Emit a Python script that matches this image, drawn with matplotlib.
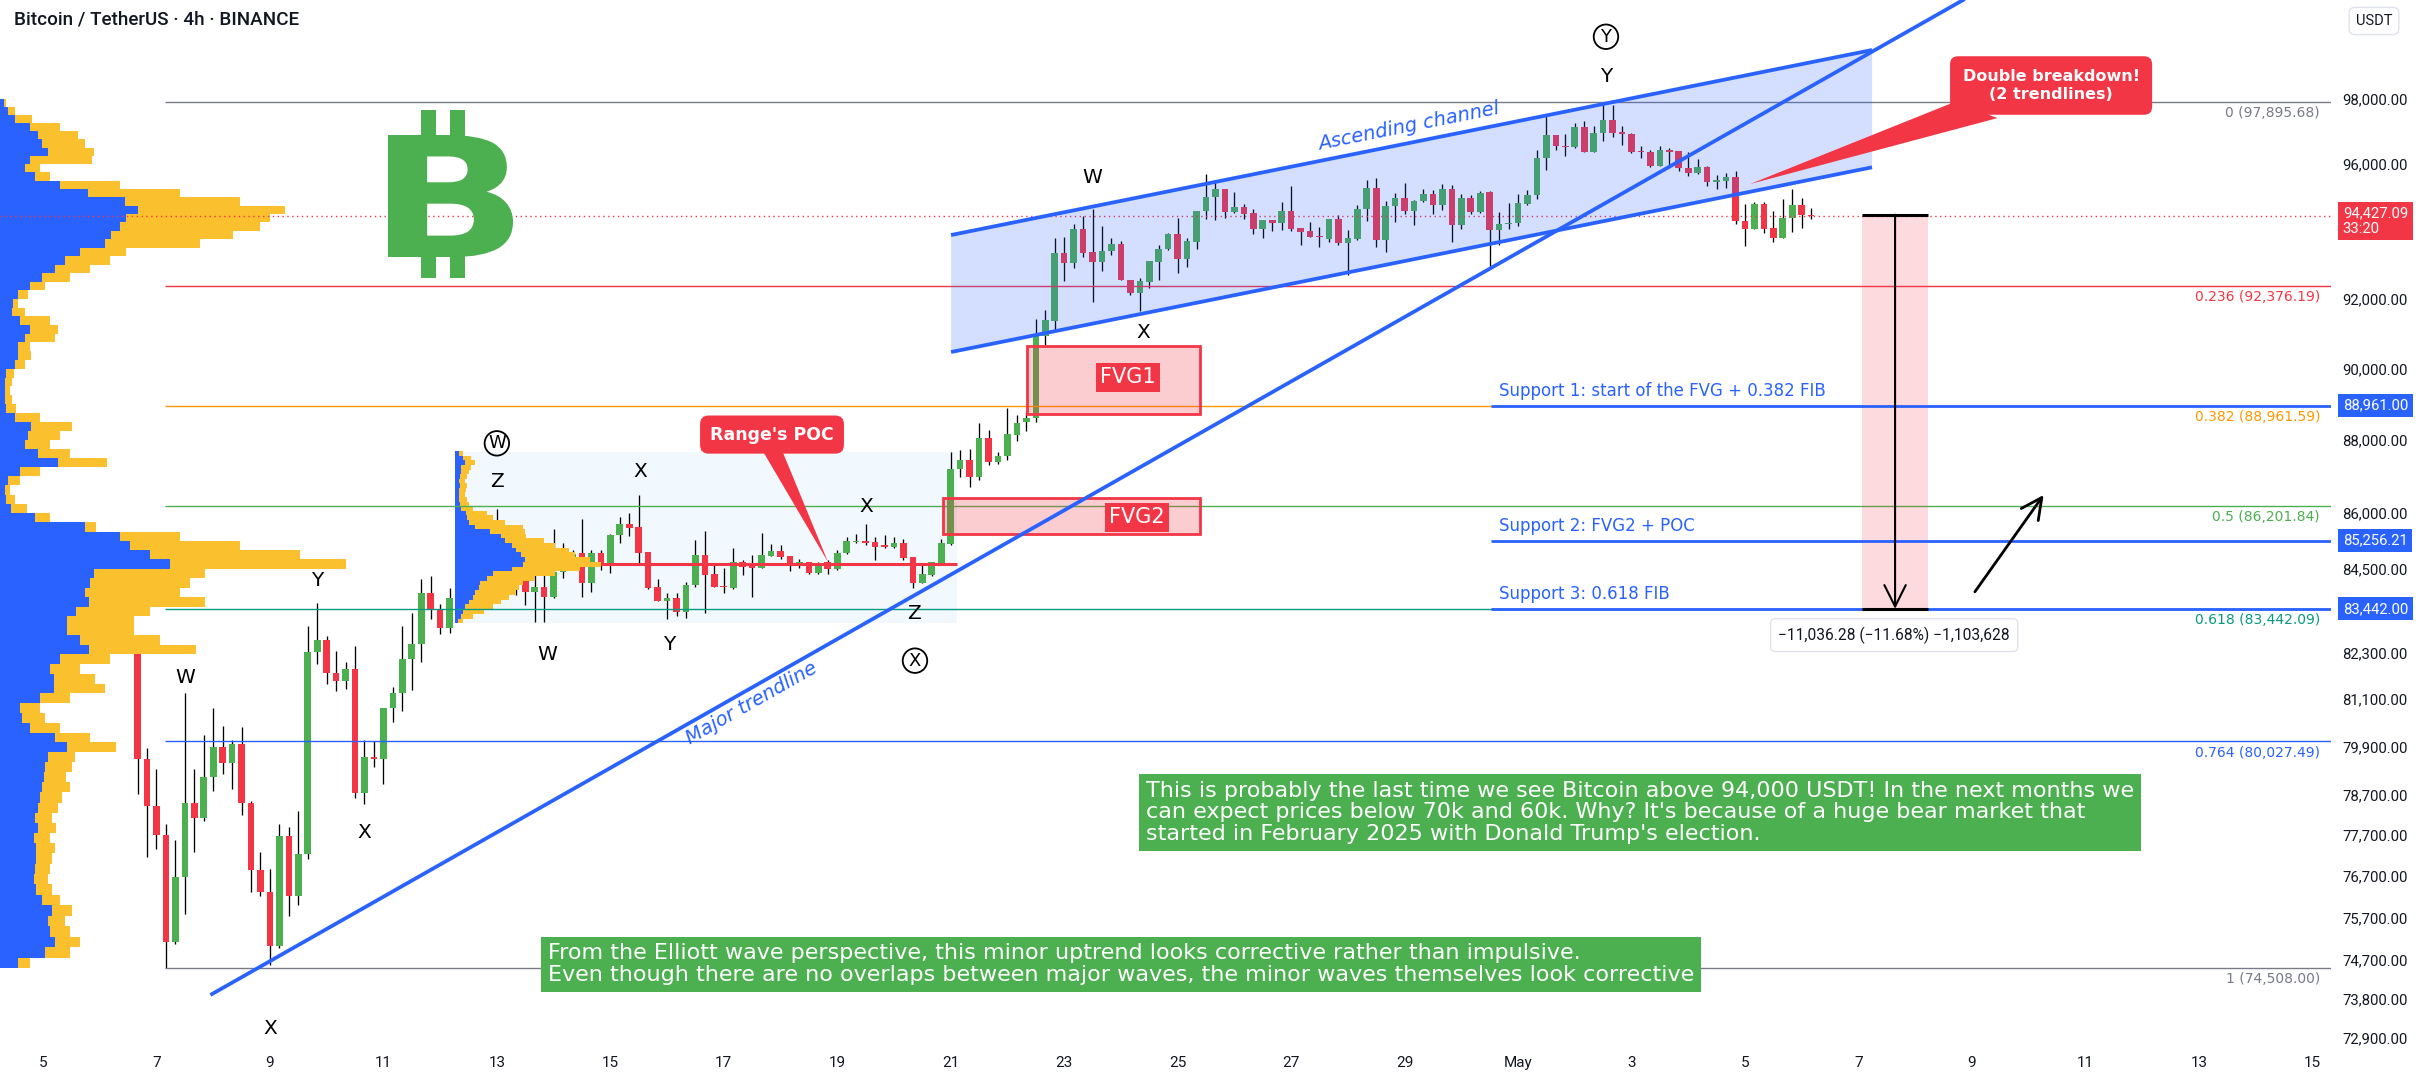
import numpy as np
import pandas as pd
import matplotlib
matplotlib.use('Agg')
import matplotlib.pyplot as plt
import matplotlib.dates as mdates
from matplotlib.patches import Rectangle, Polygon, PathPatch
from matplotlib.ticker import NullLocator, NullFormatter
from matplotlib.textpath import TextPath
from matplotlib.font_manager import FontProperties
from matplotlib.transforms import Affine2D, IdentityTransform

plt.rcParams['font.family'] = ['DejaVu Sans']
UI = ['Roboto', 'DejaVu Sans']

GREEN = '#4caf50'
RED = '#f23645'
BLUE = '#2962ff'
YELLOW = '#fbc02d'
ORANGE = '#ff9800'
TEAL = '#089981'
GRAY = '#787b86'
INK = '#131722'

# BTC/USDT 4h candles, first bar 6 Apr 2025 12:00
opens = [83100, 82300, 79590, 78420, 77704, 75113, 76685, 78484, 78115, 79144,
         79897, 79479, 79962, 78484, 76845, 76310, 75026, 77686, 76221, 77243,
         82316, 82624, 81759, 81568, 81864, 78730, 79646, 79581, 80874, 81268,
         82123, 82518, 83861, 83440, 82935, 83740, 84500, 85300, 84900, 85500,
         85100, 84000, 84351, 83875, 84016, 83761, 84422, 84700, 84936, 84113,
         84936, 84643, 85401, 85715, 85616, 84945, 84016, 83655, 83717, 83366,
         84069, 84865, 84360, 84025, 83981, 84688, 84573, 84528, 84847, 84972,
         84838, 84652, 84679, 84378, 84688, 84484, 84910, 85213, 85231, 85213,
         85115, 85088, 85186, 84812, 84131, 84334, 84643, 85177, 87212, 87442,
         86984, 88048, 87400, 87564, 88148, 88507, 88621, 90922, 91373, 93354,
         93053, 94057, 93375, 93093, 93405, 93598, 92551, 92184, 92491, 93093,
         93477, 93914, 93174, 93680, 94580, 95014, 95240, 94570, 94704, 94529,
         94067, 94313, 94221, 94580, 94087, 94007, 93843, 93761, 94365, 93649,
         93761, 94642, 95282, 93731, 94724, 94982, 94591, 94879, 95095, 94776,
         95240, 94159, 94982, 94570, 95150, 94036, 94204, 94234, 94797, 95074,
         96185, 96893, 96539, 96508, 97127, 96357, 96944, 97351, 96944, 96924,
         96387, 96357, 95954, 96437, 96387, 95884, 95733, 95914, 95443, 95493,
         95613, 94303, 94056, 94797, 94076, 93790, 94372, 94768, 94481]
highs = [83400, 82720, 79869, 79340, 77979, 77568, 81249, 79340, 80197, 80874,
         80404, 80075, 80386, 78529, 77279, 76863, 77979, 77888, 78297, 82993,
         83596, 82740, 82335, 82047, 82470, 80056, 80027, 80884, 81420, 82993,
         83333, 84234, 84313, 83567, 84000, 84700, 85500, 85600, 85700, 86121,
         85300, 84600, 84500, 84334, 84422, 85562, 85200, 85000, 85832, 85000,
         84999, 85446, 85895, 86003, 86501, 84945, 84228, 83849, 83849, 84157,
         85284, 85508, 84661, 84511, 85061, 84732, 84865, 85473, 85177, 85150,
         84838, 84776, 84679, 84670, 84732, 84999, 85356, 85446, 85697, 85356,
         85410, 85356, 85311, 84812, 84626, 84688, 85293, 87672, 87736, 87764,
         88463, 88278, 87673, 88898, 88686, 88774, 91421, 91689, 93802, 93822,
         94211, 94447, 94652, 94139, 93781, 93700, 92551, 92600, 93124, 93578,
         93934, 94395, 93781, 94601, 95711, 95511, 95240, 95157, 94786, 94652,
         94324, 94324, 94858, 95338, 94087, 94272, 94108, 94365, 94478, 94036,
         94755, 95511, 95581, 94889, 95126, 95432, 94910, 95240, 95230, 95411,
         95380, 95085, 95074, 95178, 95197, 94550, 94827, 95094, 95214, 96437,
         97454, 96893, 96924, 97249, 97300, 97147, 97895.68, 97814, 97147, 96944,
         96539, 96437, 96539, 96488, 96387, 96357, 96155, 95954, 95683, 95733,
         95783, 94797, 94846, 94846, 94600, 94946, 95244, 94975, 94669]
lows = [82500, 78712, 77162, 77360, 74508, 75087, 75778, 77297, 78050, 78785,
        79220, 78831, 78188, 76328, 76221, 74589, 74982, 75751, 76017, 77117,
        81999, 81492, 81296, 81353, 78602, 78456, 79377, 78969, 80517, 80799,
        81334, 82047, 83187, 82779, 82800, 83600, 84300, 84700, 84800, 84900,
        83900, 83800, 83541, 83105, 83105, 83717, 84245, 84600, 83761, 83893,
        84466, 84378, 85204, 85383, 84643, 83954, 83655, 83166, 83253, 83192,
        84025, 83322, 84007, 83849, 83954, 84334, 83761, 84511, 84847, 84776,
        84449, 84511, 84360, 84351, 84360, 84466, 84892, 85204, 85150, 84732,
        85070, 85070, 84732, 83981, 84113, 84316, 84626, 85133, 86984, 86710,
        86900, 87300, 87350, 87453, 87961, 88261, 88507, 90671, 91090, 92521,
        92902, 93225, 91924, 92821, 93273, 92551, 92106, 91660, 92324, 92551,
        93426, 92771, 92922, 93456, 94344, 94324, 94395, 94529, 94344, 93914,
        93802, 93985, 94036, 93985, 93578, 93812, 93527, 93680, 93578, 92691,
        93731, 94293, 93527, 93375, 94262, 94498, 94159, 94858, 94498, 94632,
        93680, 94067, 94498, 94529, 92910, 93594, 94056, 94155, 94768, 94946,
        95813, 96437, 96235, 96488, 96357, 96357, 96690, 96823, 96589, 96336,
        96185, 95914, 95934, 95914, 95783, 95633, 95713, 95343, 95244, 95274,
        94204, 93565, 94056, 93938, 93663, 93790, 93958, 94086, 94352]
closes = [82300, 79590, 78411, 77704, 75113, 76685, 78484, 78115, 79144, 79897,
          79479, 79962, 78484, 76845, 76310, 75026, 77686, 76221, 77243, 82316,
          82624, 81759, 81568, 81864, 78730, 79646, 79581, 80874, 81268, 82123,
          82518, 83861, 83440, 82935, 83740, 84500, 85300, 84900, 85500, 85100,
          84000, 84351, 83875, 84016, 83761, 84422, 84700, 84892, 84113, 84936,
          84643, 85401, 85715, 85598, 84927, 83998, 83655, 83717, 83366, 84069,
          84865, 84334, 84025, 84007, 84688, 84555, 84528, 84865, 84972, 84821,
          84643, 84679, 84378, 84599, 84484, 84927, 85240, 85231, 85204, 85088,
          85097, 85186, 84794, 84131, 84360, 84679, 85204, 87212, 87442, 86984,
          88048, 87400, 87564, 88175, 88489, 88621, 90922, 91392, 93354, 93053,
          94057, 93354, 93093, 93405, 93598, 92551, 92184, 92521, 93124, 93477,
          93914, 93174, 93700, 94580, 95014, 95261, 94570, 94704, 94498, 94067,
          94313, 94221, 94580, 94057, 93975, 93832, 93822, 94365, 93629, 93781,
          94642, 95282, 93731, 94724, 94982, 94591, 94889, 95095, 94776, 95240,
          94159, 94982, 94570, 95126, 94014, 94204, 94234, 94827, 95074, 96185,
          96893, 96539, 96508, 97127, 96357, 96944, 97351, 96944, 96924, 96357,
          96357, 95954, 96437, 96357, 95884, 95733, 95914, 95443, 95513, 95613,
          94303, 94056, 94797, 94056, 93790, 94372, 94768, 94481, 94427.09]
times = pd.date_range('2025-04-06 12:00', periods=len(opens), freq='4h')

# visible-range volume profile (250 USDT rows, relative volume)
vp_centers = np.arange(74625, 98000, 250)
vp_total = [30, 70, 80, 70, 65, 72, 60, 52, 48, 50,
            52, 55, 50, 56, 52, 58, 62, 70, 66, 72,
            75, 116, 90, 60, 45, 40, 70, 105, 95, 80,
            110, 196, 160, 134, 134, 150, 205, 180, 190, 205,
            346, 300, 240, 180, 96, 50, 27, 15, 10, 20,
            40, 107, 70, 50, 60, 72, 40, 16, 12, 10,
            12, 14, 25, 31, 30, 55, 58, 50, 25, 18,
            28, 45, 70, 90, 110, 126, 200, 233, 260, 270,
            285, 240, 180, 120, 50, 40, 92, 94, 85, 78,
            60, 32, 15, 6]
vp_up = [18, 45, 55, 50, 48, 52, 42, 36, 34, 35,
         36, 36, 34, 38, 35, 38, 40, 42, 44, 45,
         48, 67, 55, 30, 22, 20, 40, 54, 54, 50,
         60, 89, 80, 67, 67, 76, 89, 85, 90, 94,
         170, 150, 130, 120, 85, 35, 11, 6, 5, 8,
         20, 58, 38, 25, 28, 31, 15, 6, 5, 5,
         5, 6, 15, 18, 18, 25, 30, 20, 12, 13,
         18, 30, 42, 55, 65, 80, 105, 111, 120, 126,
         138, 125, 88, 60, 35, 25, 30, 48, 42, 38,
         30, 15, 8, 4]

# fixed-range profile of the sideways range (125 USDT rows)
rvp_centers = np.arange(83125, 87700, 125)
rvp_total = [8, 18, 29, 38, 46, 54, 61, 64, 68, 80, 100, 125, 146, 135, 120, 114, 100, 89, 71, 70,
             68, 50, 38, 32, 18, 14, 12, 10, 11, 12, 10, 12, 14, 16, 20, 16, 8]
rvp_up = [3, 6, 8, 10, 14, 18, 20, 24, 25, 32, 38, 57, 68, 70, 66, 61, 57, 50, 46, 35,
          20, 14, 12, 11, 6, 5, 4, 4, 4, 5, 4, 5, 6, 6, 10, 8, 4]

fib_hi, fib_lo = 97895.68, 74508.00
fib_ratios = [0, 0.236, 0.382, 0.5, 0.618, 0.764, 1]
fib_colors = [GRAY, RED, ORANGE, GREEN, TEAL, BLUE, GRAY]

support_prices = [88961.00, 85256.21, 83442.00]
support_labels = ['Support 1: start of the FVG + 0.382 FIB', 'Support 2: FVG2 + POC', 'Support 3: 0.618 FIB']

last_price = 94427.09
meas_from, meas_to = 94478.28, 83442.00

ytick_values = [98000, 96000, 92000, 90000, 88000, 86000, 84500, 82300, 81100, 79900,
                78700, 77700, 76700, 75700, 74700, 73800, 72900]
xtick_days = [5, 7, 9, 11, 13, 15, 17, 19, 21, 23, 25, 27, 29, 31, 33, 35, 37, 39, 41, 43, 45]
xtick_labels = ['5', '7', '9', '11', '13', '15', '17', '19', '21', '23', '25', '27', '29',
                'May', '3', '5', '7', '9', '11', '13', '15']

# drawings anchored in (day of April, price); May 1 = day 31
chan_days = [21.006, 37.24]
chan_upper = [93876, 99513]
chan_lower = [90477, 95901]
trend_days = [7.98, 38.845]
trend_prices = [73902, 101094]
range_days, range_prices = (12.27, 21.11), (83067, 87668)
poc_price = 84635
fvg1_days, fvg1_prices = (22.35, 25.40), (88725, 90648)
fvg2_days, fvg2_prices = (20.865, 25.395), (85432, 86406)

wave_text = ['W', 'Y', 'X', 'X', 'Z', 'W', 'W', 'X', 'Y', 'X', 'Z', 'X', 'W', 'X', 'Y', 'Y']
wave_day = [7.5, 9.833, 10.667, 9.0, 13.0, 13.0, 13.88, 15.52, 16.03, 19.52, 20.35, 20.37, 23.5, 24.39, 32.55, 32.55]
wave_price = [81650, 84190, 77750, 73110, 86850, 87910, 82260, 87130, 82500, 86190, 83320, 82090, 95600, 91040, 98680, 99930]
wave_circled = [False, False, False, False, False, True, False, False, False, False, False, True, False, False, False, True]

W, H = 2428, 1082
AX_W, AX_H = 2331, 1043
APR0 = mdates.date2num(pd.Timestamp('2025-04-01')) - 1


def day(d):
    return APR0 + d


X0, X1 = day(4.242), day(45.33)
Y0, Y1 = 72770, 101094
PXD = AX_W / (X1 - X0)  # pixels per day

fig = plt.figure(figsize=(W / 100, H / 100), dpi=100, facecolor='white')
ax = fig.add_axes([0, 1 - AX_H / H, AX_W / W, AX_H / H])
ax.set_yscale('log')
ax.set_xlim(X0, X1)
ax.set_ylim(Y0, Y1)
for s in ax.spines.values():
    s.set_visible(False)

# candles
x = mdates.date2num(times)
o, h, l, c = map(np.array, (opens, highs, lows, closes))
up = c >= o
lo_b = np.minimum(o, c)
hi_b = np.maximum(np.maximum(o, c), lo_b * 1.0004)
ax.vlines(x, l, h, color='black', lw=0.95, zorder=2.8)
ax.bar(x, hi_b - lo_b, bottom=lo_b, width=0.7 / 6, color=np.where(up, GREEN, RED), lw=0, zorder=3)

# range box + POC
ax.add_patch(Rectangle((day(range_days[0]), range_prices[0]), range_days[1] - range_days[0],
                       range_prices[1] - range_prices[0], fc='#2196f3', alpha=0.06, lw=0, zorder=1))
ax.hlines(poc_price, day(range_days[0]), day(range_days[1]), color=RED, lw=2.2, zorder=3.5)

# volume profiles
vt, vu = np.array(vp_total, float), np.array(vp_up, float)
ax.barh(vp_centers - 125, vu / PXD, height=250, left=X0, align='edge', color=BLUE, lw=0, zorder=4)
ax.barh(vp_centers - 125, (vt - vu) / PXD, height=250, left=X0 + vu / PXD, align='edge', color=YELLOW, lw=0, zorder=4)
rt, ru = np.array(rvp_total, float), np.array(rvp_up, float)
rx = day(range_days[0])
ax.barh(rvp_centers - 62.5, ru / PXD, height=125, left=rx, align='edge', color=BLUE, lw=0, zorder=4)
ax.barh(rvp_centers - 62.5, (rt - ru) / PXD, height=125, left=rx + ru / PXD, align='edge', color=YELLOW, lw=0, zorder=4)

# last price line
ax.axhline(last_price, color=RED, lw=1.0, ls=(0, (1, 2.5)), zorder=4.5)

# fib retracement
for r, col in zip(fib_ratios, fib_colors):
    p = fib_hi - r * (fib_hi - fib_lo)
    ax.hlines(p, day(7.151), X1, color=col, lw=1.0, zorder=4.6)
    ax.annotate(f'{r:g} ({p:,.2f})', xy=(day(45.138), p), xytext=(0, -3), textcoords='offset points',
                ha='right', va='top', color=col, fontsize=10, zorder=8)

# ascending channel
ax.add_patch(Polygon([(day(chan_days[0]), chan_upper[0]), (day(chan_days[1]), chan_upper[1]),
                      (day(chan_days[1]), chan_lower[1]), (day(chan_days[0]), chan_lower[0])],
                     closed=True, fc=BLUE, alpha=0.2, lw=0, zorder=5))
ax.plot([day(d) for d in chan_days], chan_upper, color=BLUE, lw=2.7, zorder=6, solid_capstyle='butt')
ax.plot([day(d) for d in chan_days], chan_lower, color=BLUE, lw=2.7, zorder=6, solid_capstyle='butt')
ax.text(day(29.08), 97140, 'Ascending channel', rotation=11.34, rotation_mode='anchor', ha='center',
        va='center', color=BLUE, style='italic', fontsize=14, zorder=8)

# major trendline
ax.plot([day(d) for d in trend_days], trend_prices, color=BLUE, lw=2.7, zorder=6)
ax.text(day(17.498), 80987, 'Major trendline', rotation=29.6, rotation_mode='anchor', ha='center',
        va='center', color=BLUE, style='italic', fontsize=14, zorder=8)

# FVG boxes
for (d0, d1), (p0, p1), lab, ld, lp in [(fvg1_days, fvg1_prices, 'FVG1', 24.126, 89765),
                                        (fvg2_days, fvg2_prices, 'FVG2', 24.284, 85890)]:
    ax.add_patch(Rectangle((day(d0), p0), d1 - d0, p1 - p0, fc=RED, alpha=0.25, lw=0, zorder=5))
    ax.add_patch(Rectangle((day(d0), p0), d1 - d0, p1 - p0, fc='none', ec=RED, lw=2.0, zorder=5.1))
    ax.text(day(ld), lp, lab, ha='center', va='center', color='white', fontsize=15, zorder=8,
            bbox=dict(boxstyle='square,pad=0.22', fc=RED, ec='none'))

# supports
for p, lab in zip(support_prices, support_labels):
    ax.hlines(p, day(30.524), X1, color=BLUE, lw=2.0, zorder=6)
    ax.annotate(lab, xy=(day(30.665), p), xytext=(0, 4), textcoords='offset points', ha='left',
                va='bottom', color=BLUE, fontsize=12, zorder=8)

# Elliott wave labels
for t, d, p, circ in zip(wave_text, wave_day, wave_price, wave_circled):
    if circ:
        ax.text(day(d), p, t, ha='center', va='center', fontsize=13, color='black', zorder=8,
                bbox=dict(boxstyle='circle,pad=0.18', fc='none', ec='black', lw=1.3))
    else:
        ax.text(day(d), p, t, ha='center', va='center', fontsize=14.5, color='black', zorder=8)

# bitcoin logo: bold B stretched into its box, plus the two bars
logo_days, logo_prices = (11.081, 13.285), (93227, 96882)
fig.canvas.draw()
(bx0, by0), (bx1, by1) = ax.transData.transform([(day(logo_days[0]), logo_prices[0]),
                                                 (day(logo_days[1]), logo_prices[1])])
tp = TextPath((0, 0), 'B', size=100, prop=FontProperties(family='DejaVu Sans', weight='bold'))
ext = tp.get_extents()
tr = Affine2D().translate(-ext.x0, -ext.y0).scale((bx1 - bx0) / ext.width, (by1 - by0) / ext.height).translate(bx0, by0)
fig.add_artist(PathPatch(tr.transform_path(tp), fc=GREEN, lw=0, transform=IdentityTransform(), zorder=6))
for d0, d1 in [(11.663, 11.928), (12.174, 12.439)]:
    ax.add_patch(Rectangle((day(d0), 96700), d1 - d0, 97649 - 96700, fc=GREEN, lw=0, zorder=6))
    ax.add_patch(Rectangle((day(d0), 92612), d1 - d0, 93400 - 92612, fc=GREEN, lw=0, zorder=6))

# callouts
ax.add_patch(Polygon([(day(17.686), 87700), (day(18.031), 87700), (day(18.838), 84680)],
                     closed=True, fc=RED, lw=0, zorder=7))
ax.text(day(17.85), 88153, "Range's POC", ha='center', va='center', color='white', fontsize=12.5,
        fontweight='bold', zorder=8, bbox=dict(boxstyle='round,pad=0.58,rounding_size=0.5', fc=RED, ec='none'))
ax.add_patch(Polygon([(day(38.70), 97900), (day(39.45), 97400), (day(35.09), 95397)],
                     closed=True, fc=RED, lw=0, zorder=7))
ax.text(day(40.396), 98406, 'Double breakdown!\n(2 trendlines)', ha='center', va='center', color='white',
        fontsize=11.5, fontweight='bold', linespacing=1.3, zorder=8,
        bbox=dict(boxstyle='round,pad=0.78,rounding_size=0.5', fc=RED, ec='none'))

# price range measurement
ax.add_patch(Rectangle((day(37.06), meas_to), 38.23 - 37.06, meas_from - meas_to, fc=RED, alpha=0.18,
                       lw=0, zorder=5))
ax.hlines([meas_from, meas_to], day(37.06), day(38.23), color='black', lw=2.2, zorder=7)
ax.annotate('', xy=(day(37.646), meas_to), xytext=(day(37.646), meas_from),
            arrowprops=dict(arrowstyle='->,head_length=0.7,head_width=0.35', lw=1.5, color='black',
                            mutation_scale=22, shrinkA=0, shrinkB=0), zorder=7)
diff = meas_to - meas_from
meas_txt = f'{diff:,.2f} ({diff / meas_from * 100:.2f}%) {diff * 100:,.0f}'.replace('-', '\u2212')
ax.text(day(37.63), 82754, meas_txt, ha='center', va='center', fontsize=11.2, family=UI, color=INK,
        zorder=8, bbox=dict(boxstyle='round,pad=0.5,rounding_size=0.3', fc='white', ec='#e0e3eb', lw=1))
ax.annotate('', xy=(day(40.264), 86490), xytext=(day(39.053), 83892),
            arrowprops=dict(arrowstyle='->,head_length=0.6,head_width=0.3', lw=2, color='black',
                            mutation_scale=25, shrinkA=0, shrinkB=0), zorder=7)

# notes
ax.text(day(24.443), 79037,
        "This is probably the last time we see Bitcoin above 94,000 USDT! In the next months we\n"
        "can expect prices below 70k and 60k. Why? It's because of a huge bear market that\n"
        "started in February 2025 with Donald Trump's election.",
        ha='left', va='top', color='white', fontsize=16, linespacing=1.1, zorder=8,
        bbox=dict(boxstyle='square,pad=0.3', fc=GREEN, ec='none'))
ax.text(day(13.902), 75094,
        "From the Elliott wave perspective, this minor uptrend looks corrective rather than impulsive.\n"
        "Even though there are no overlaps between major waves, the minor waves themselves look corrective",
        ha='left', va='top', color='white', fontsize=16, linespacing=1.1, zorder=8,
        bbox=dict(boxstyle='square,pad=0.3', fc=GREEN, ec='none'))

# axes ticks
ax.yaxis.set_minor_locator(NullLocator())
ax.yaxis.set_minor_formatter(NullFormatter())
ax.set_yticks(ytick_values)
ax.set_yticklabels([f'{v:,.2f}' for v in ytick_values])
ax.tick_params(axis='y', which='both', length=0, pad=7.9, labelsize=10.7, labelcolor=INK,
               left=False, labelleft=False, right=True, labelright=True)
ax.set_xticks([day(d) for d in xtick_days])
ax.set_xticklabels(xtick_labels)
ax.tick_params(axis='x', length=0, pad=9.7, labelsize=11, labelcolor=INK)
for lbl in ax.get_xticklabels() + ax.get_yticklabels():
    lbl.set_fontfamily(UI)


def axis_tag(p, txt, col, dy=0, va='center'):
    ax.annotate(txt, xy=(1.0, p), xycoords=ax.get_yaxis_transform(), xytext=(8.5, dy),
                textcoords='offset points', ha='left', va=va, color='white', fontsize=10.7, family=UI,
                linespacing=1.1, annotation_clip=False, zorder=9,
                bbox=dict(boxstyle='square,pad=0.3', fc=col, ec='none'))


axis_tag(last_price, f'{last_price:,.2f}\n33:20', RED, dy=7, va='top')
for p in support_prices:
    axis_tag(p, f'{p:,.2f}', BLUE)

fig.text(14 / W, 1 - 19 / H, 'Bitcoin / TetherUS \u00b7 4h \u00b7 BINANCE', ha='left', va='center',
         fontsize=13.6, family=UI, fontweight='medium', color=INK)
fig.text(2374 / W, 1 - 21 / H, 'USDT', ha='center', va='center', fontsize=10.5, family=UI, color=INK,
         bbox=dict(boxstyle='round,pad=0.45,rounding_size=0.4', fc='white', ec='#e0e3eb'))

fig.savefig('out.png', dpi=100, facecolor='white')
